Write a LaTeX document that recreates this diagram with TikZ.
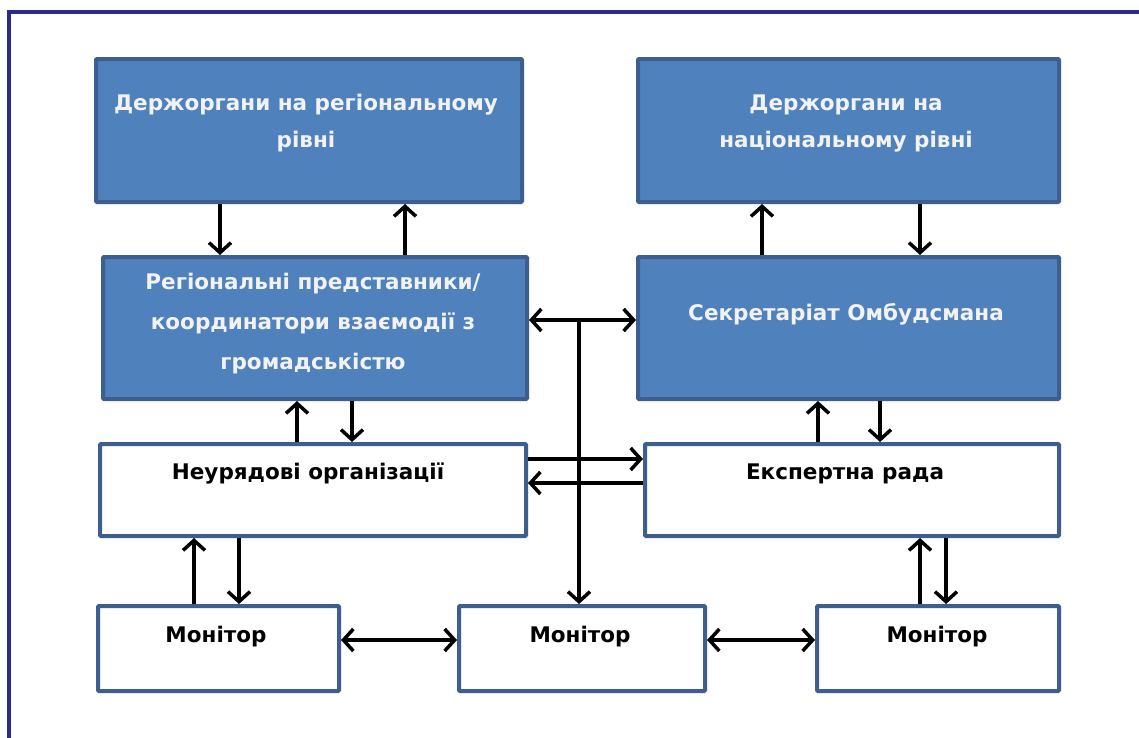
\documentclass[tikz,border=0pt]{standalone}
\usepackage{fontspec}
\setmainfont{DejaVu Sans}
\usetikzlibrary{arrows.meta}
\definecolor{boxblue}{HTML}{4F81BD}
\definecolor{boxedge}{HTML}{3D5F8F}
\definecolor{frameblue}{HTML}{2E2A8C}
\definecolor{lighttext}{HTML}{F2F2F2}
\tikzset{
  base/.style={draw=boxedge, line width=4pt, anchor=north west, inner sep=0pt, rounded corners=1pt},
  bluebox/.style={base, fill=boxblue},
  whitebox/.style={base, fill=white},
  wtxt/.style={text=lighttext, font=\bfseries\fontsize{21.5}{37}\selectfont, align=center, anchor=base},
  btxt/.style={text=black, font=\bfseries\fontsize{21.5}{37}\selectfont, align=center, anchor=base},
  arr/.style={line width=3.5pt, -{Straight Barb[length=10pt,width=22pt]}},
  darr/.style={line width=3.5pt, {Straight Barb[length=10pt,width=22pt]}-{Straight Barb[length=10pt,width=22pt]}},
}
\begin{document}
\begin{tikzpicture}[x=1pt,y=-1pt]
\useasboundingbox (0,0) rectangle (1139,737);
\fill[white] (0,0) rectangle (1139,737);
\draw[frameblue, line width=4pt] (9,740) -- (9,12) -- (1142,12);
% boxes
\node[bluebox, minimum width=426pt, minimum height=143pt] (A) at (94,57) {};
\node[bluebox, minimum width=421pt, minimum height=143pt] (B) at (636,57) {};
\node[bluebox, minimum width=424pt, minimum height=142pt] (C) at (101,255) {};
\node[bluebox, minimum width=421pt, minimum height=142pt] (D) at (636,255) {};
\node[whitebox, minimum width=426pt, minimum height=92pt] (E) at (98,442) {};
\node[whitebox, minimum width=414pt, minimum height=92pt] (F) at (643,442) {};
\node[whitebox, minimum width=241pt, minimum height=85pt] (G) at (96,604) {};
\node[whitebox, minimum width=246pt, minimum height=85pt] (H) at (457,604) {};
\node[whitebox, minimum width=242pt, minimum height=85pt] (I) at (815,604) {};
% texts (anchor = baseline of last line)
\node[wtxt] (tA) at (306,147) {Держоргани на регіональному\\рівні};
\node[wtxt] (tB) at (846,147) {Держоргани на\\національному рівні};
\node[wtxt, font=\bfseries\fontsize{21.5}{40}\selectfont] (tC) at (313,369) {Регіональні представники/\\координатори взаємодії з\\громадськістю};
\node[wtxt] (tD) at (846,320) {Секретаріат Омбудсмана};
\node[btxt] (tE) at (308,479) {Неурядові організації};
\node[btxt] (tF) at (845,479) {Експертна рада};
\node[btxt] (tG) at (216,642) {Монітор};
\node[btxt] (tH) at (580,642) {Монітор};
\node[btxt] (tI) at (937,642) {Монітор};
% vertical arrows
\draw[arr] (220,0 |- A.south) -- (220,0 |- C.north);
\draw[arr] (405,0 |- C.north) -- (405,0 |- A.south);
\draw[arr] (762,0 |- D.north) -- (762,0 |- B.south);
\draw[arr] (920,0 |- B.south) -- (920,0 |- D.north);
\draw[arr] (297,0 |- E.north) -- (297,0 |- C.south);
\draw[arr] (352,0 |- C.south) -- (352,0 |- E.north);
\draw[arr] (818,0 |- F.north) -- (818,0 |- D.south);
\draw[arr] (880,0 |- D.south) -- (880,0 |- F.north);
\draw[arr] (194,0 |- G.north) -- (194,0 |- E.south);
\draw[arr] (239,0 |- E.south) -- (239,0 |- G.north);
\draw[arr] (920,0 |- I.north) -- (920,0 |- F.south);
\draw[arr] (946,0 |- F.south) -- (946,0 |- I.north);
% horizontal arrows
\coordinate (tj) at (579,320);
\draw[darr] (C.east |- tj) -- (D.west |- tj);
\draw[arr] (tj) -- (tj |- H.north);
\draw[arr] (E.east |- 0,459) -- (F.west |- 0,459);
\draw[arr] (F.west |- 0,483) -- (E.east |- 0,483);
\draw[darr] (G.east |- 0,640) -- (H.west |- 0,640);
\draw[darr] (H.east |- 0,640) -- (I.west |- 0,640);
\end{tikzpicture}
\end{document}
